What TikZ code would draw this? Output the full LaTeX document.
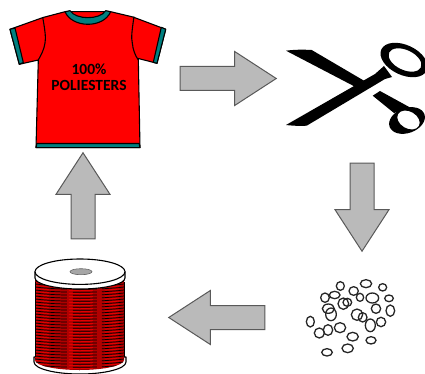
\documentclass[tikz,border=0pt]{standalone}
\usepackage{fontspec}
\setmainfont{Carlito}
\usetikzlibrary{shapes.arrows}
\definecolor{shirtred}{RGB}{255,0,0}
\definecolor{shirtteal}{RGB}{0,128,128}
\definecolor{threadred}{RGB}{176,0,0}
\tikzset{
  blockarrow/.style={single arrow,draw=black!65,line width=1pt,fill=black!27,inner sep=0pt,text height=23pt,text depth=0pt,text width=0pt,
    minimum height=#1,minimum width=53pt,single arrow head extend=15pt,single arrow tip angle=66},
  pellet/.style={draw=black!85,line width=1.3pt},
  outline/.style={draw=black,line width=1.1pt,line join=round}
}
\begin{document}
\begin{tikzpicture}[x=1pt,y=-1pt]
\useasboundingbox (0,0) rectangle (425,374);
% Shirt
\fill[shirtred,outline] (10,29.3) -- (43,17.5) -- (65,11.7) -- (110.7,11.7) -- (133,17) -- (165.7,29.3) -- (157,63.3) -- (138.3,58.5)
  -- (140,147.7) -- (36,147.7) -- (38.3,60) -- (19.3,64.3) -- cycle;
\fill[shirtteal,outline] (10,29.3) -- (15,28) -- (23.3,62.5) -- (19.3,64.3) -- cycle;
\fill[shirtteal,outline] (165.7,29.3) -- (161.3,27.3) -- (153.3,62.3) -- (157,63.3) -- cycle;
\fill[shirtteal,outline] (65,11.7) .. controls (72,28) and (103,29) .. (110.7,11.7) -- (105.7,10.7) .. controls (100,20) and (76,20) .. (70,10.7) -- cycle;
\fill[shirtteal,outline] (36.7,143.5) -- (139.3,143.5) -- (139.8,147.7) -- (36.2,147.7) -- cycle;
\draw[outline] (42.7,17.3) .. controls (45,30) and (46,38) .. (45,43) .. controls (44,50) and (41,55) .. (38.3,60);
\draw[outline] (134,16.7) .. controls (132,30) and (131,38) .. (132.3,43) .. controls (133,50) and (135,55) .. (138.3,60);
\node[font=\bfseries\fontsize{15.5}{16}\selectfont,align=center,inner sep=0pt] (shirtlabel) at (89,77) {100\%\\POLIESTERS};
% Arrows
\node[blockarrow=96pt] (arrowcut) at (219,78.5) {};
\node[blockarrow=88pt,rotate=-90] (arrowdown) at (362,198) {};
\node[blockarrow=96pt,rotate=180] (arrowleft) at (226,317.5) {};
\node[blockarrow=86pt,rotate=90] (arrowup) at (83,205) {};
% Scissors
\fill[black] (286,50.7) .. controls (295,49.5) and (303,49.5) .. (311.7,50) -- (364,80.7) -- (355,86.7) -- cycle;
\fill[black] (286,125) .. controls (295,126) and (301,126) .. (306.7,125.7) -- (385,79) -- (392,77) -- (384,66) -- (375,74) -- cycle;
\fill[black] (372.7,95.7) -- (380,91) -- (411,108) -- (394,113) -- cycle;
\fill[black,even odd rule] (404,60) ellipse[x radius=25,y radius=15,rotate=-25] (405,60) ellipse[x radius=17.5,y radius=10,rotate=-25];
\fill[black,even odd rule] (407,120.5) ellipse[x radius=18.5,y radius=12.5,rotate=20] (408.5,120) ellipse[x radius=12,y radius=8.5,rotate=-30];
% Pellets
\foreach \px/\py/\rx/\ry in {136/48/12/13,213/41/17/12,263/52/12/11,176/63/14/13,90/83/13/14,119/75/16/11,195/82/11/12,232/84/19/15,
  282/85/13/10,100/116/18/14,108/133/16/19,145/101/16/17,157/97/13/12,243/116/14/14,286/122/13/17,186/134/17/17,203/142/13/14,
  226/166/15/19,258/156/14/14,46/155/12/16,73/189/15/15,99/180/14/16,135/173/17/15,173/200/17/13,228/211/15/11,158/235/17/13,96/247/16/11}
  \draw[pellet] ({295+\px/3},{270+\py/3}) ellipse[x radius=\rx/3,y radius=\ry/3];
% Spool
\fill[white,outline] (34,357) -- (126,357) -- (126,362) arc[start angle=0,end angle=180,x radius=46,y radius=12] -- cycle;
\fill[threadred] (35,280) -- (124,280) -- (124,360) arc[start angle=0,end angle=180,x radius=44.5,y radius=10] -- cycle;
\begin{scope}
  \clip (35,280) -- (124,280) -- (124,360) arc[start angle=0,end angle=180,x radius=44.5,y radius=10] -- cycle;
  \foreach \i in {0,...,30}
    \draw[black,line width=0.7pt,dash pattern=on 32pt off 6pt on 24pt off 5pt on 30pt] (35,{281+3*\i}) .. controls (60,{284+3*\i}) and (100,{284+3*\i}) .. (124,{281+3*\i});
  \foreach \i in {0,...,30}
    \draw[shirtred,line width=0.5pt,dash pattern=on 14pt off 20pt on 24pt off 12pt] (35,{282.5+3*\i}) .. controls (60,{285.5+3*\i}) and (100,{285.5+3*\i}) .. (124,{282.5+3*\i});
\end{scope}
\draw[black,line width=0.9pt] (35,282) -- (35,357) (124,282) -- (124,357);
\fill[white,outline] (35,272) -- (35,278) arc[start angle=180,end angle=0,x radius=45,y radius=11] -- (125,272) -- cycle;
\fill[white,outline] (80,271.7) ellipse[x radius=45,y radius=12.7];
\fill[black!35,draw=black!60,line width=0.6pt] (81,271.7) ellipse[x radius=11,y radius=3];
\end{tikzpicture}
\end{document}
